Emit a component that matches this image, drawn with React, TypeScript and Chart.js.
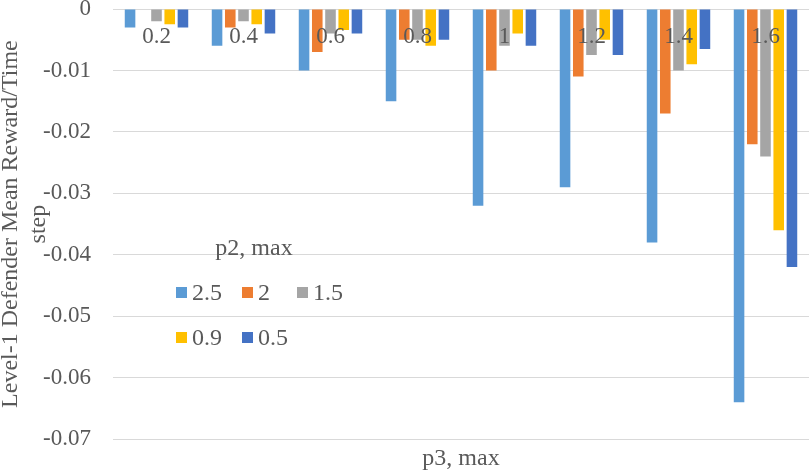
import React, { useRef, useEffect } from 'react';
import Chart from 'chart.js/auto';

const categories = ['0.2', '0.4', '0.6', '0.8', '1', '1.2', '1.4', '1.6'];
const seriesNames = ['2.5', '2', '1.5', '0.9', '0.5'];
const seriesColors = ['#5B9BD5', '#ED7D31', '#A5A5A5', '#FFC000', '#4472C4'];

const p2max25 = [-0.003, -0.006, -0.01, -0.015, -0.032, -0.029, -0.038, -0.064];
const p2max2 = [0, -0.003, -0.007, -0.005, -0.01, -0.011, -0.017, -0.022];
const p2max15 = [-0.002, -0.002, -0.004, -0.005, -0.006, -0.0075, -0.01, -0.024];
const p2max09 = [-0.0025, -0.0025, -0.0034, -0.006, -0.004, -0.005, -0.009, -0.036];
const p2max05 = [-0.003, -0.004, -0.004, -0.005, -0.006, -0.0075, -0.0065, -0.042];

const seriesValues = [p2max25, p2max2, p2max15, p2max09, p2max05];

const yMin = -0.07;
const yMax = 0;
const yStep = 0.01;

const textColor = '#595959';
const gridColor = '#D9D9D9';
const fontFamily = '"Liberation Serif", "Times New Roman", serif';

const App: React.FC = () => {
  const canvasRef = useRef<HTMLCanvasElement>(null);

  useEffect(() => {
    document.body.style.margin = '0';
    if (!canvasRef.current) return;
    const ctx = canvasRef.current.getContext('2d');
    if (!ctx) return;

    const chart = new Chart(ctx, {
      type: 'bar',
      data: {
        labels: categories,
        datasets: seriesNames.map((name, i) => ({
          label: name,
          data: seriesValues[i],
          backgroundColor: seriesColors[i],
          categoryPercentage: 0.76,
          barPercentage: 0.8,
        })),
      },
      options: {
        animation: false,
        responsive: false,
        maintainAspectRatio: false,
        layout: { padding: 0 },
        plugins: {
          legend: { display: false },
          tooltip: { enabled: false },
        },
        scales: {
          x: {
            type: 'category',
            position: { y: 0 },
            grid: { display: false, drawTicks: false },
            border: { display: true, color: gridColor, width: 1 },
            ticks: {
              z: 1, // labels sit on top of the bars, like the original
              color: textColor,
              font: { family: fontFamily, size: 23 },
              padding: 14,
              maxRotation: 0,
            },
          },
          x2: {
            type: 'category',
            position: 'bottom',
            grid: { display: false, drawTicks: false },
            border: { display: false },
            ticks: { display: false },
            title: {
              display: true,
              text: 'p3, max',
              color: textColor,
              font: { family: fontFamily, size: 24 },
              padding: { top: 5, bottom: -2 },
            },
          },
          y: {
            min: yMin,
            max: yMax,
            grid: { color: gridColor, lineWidth: 1, drawTicks: false },
            border: { display: false },
            ticks: {
              stepSize: yStep,
              color: textColor,
              font: { family: fontFamily, size: 23 },
              padding: 22,
              callback: (v) => {
                const n = Number(v);
                return Math.abs(n) < 1e-9 ? '0' : n.toFixed(2);
              },
            },
            title: {
              display: true,
              text: ['Level-1 Defender Mean Reward/Time', 'step'],
              color: textColor,
              font: { family: fontFamily, size: 24, lineHeight: 1.2 },
              padding: { top: -4, bottom: 0 },
            },
            afterFit: (scale) => {
              scale.width = 113;
              scale.paddingTop = 9;
              scale.paddingBottom = 0;
            },
          },
        },
      },
    });

    return () => {
      chart.destroy();
    };
  }, []);

  return (
    <div style={{ position: 'relative', width: 809, height: 471 }}>
      <canvas ref={canvasRef} width={809} height={471} style={{ display: 'block' }}></canvas>
      <div
        style={{
          position: 'absolute',
          left: 176,
          top: 232,
          fontFamily,
          fontSize: 24,
          color: textColor,
        }}
      >
        <div style={{ width: 156, textAlign: 'center', lineHeight: '30px', marginBottom: 17 }}>p2, max</div>
        <div style={{ display: 'grid', gridTemplateColumns: '66px 55px auto', rowGap: 19.5 }}>
          {seriesNames.map((name, i) => (
            <div key={name} style={{ display: 'flex', alignItems: 'center', height: 26 }}>
              <span
                style={{
                  display: 'inline-block',
                  width: 11,
                  height: 11,
                  background: seriesColors[i],
                  marginRight: 5,
                }}
              />
              <span>{name}</span>
            </div>
          ))}
        </div>
      </div>
    </div>
  );
};

export default App;
